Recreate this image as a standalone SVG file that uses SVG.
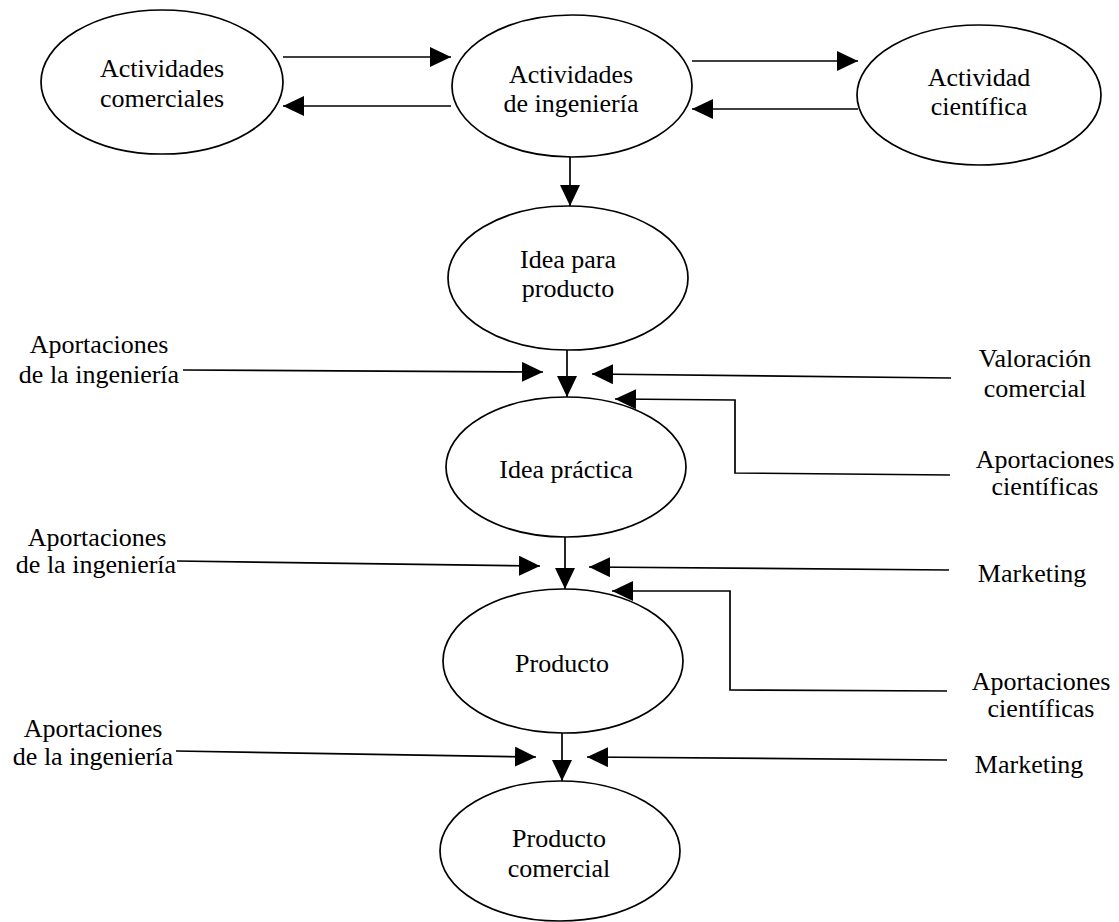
<svg xmlns="http://www.w3.org/2000/svg" width="1119" height="922" viewBox="0 0 1119 922">
<style>
.node ellipse{fill:#fff;stroke:#000;stroke-width:1.7}
text{font-family:"Liberation Serif","Times New Roman",serif;font-size:26px;fill:#000;text-anchor:middle}
.conn line,.conn polyline{fill:none;stroke:#000;stroke-width:1.7;marker-end:url(#ah)}
</style>
<defs>
<marker id="ah" markerUnits="userSpaceOnUse" markerWidth="22" markerHeight="22" refX="21" refY="10" orient="auto">
<path d="M0,0 L21,10 L0,20 z" fill="#000"/>
</marker>
</defs>
<rect width="1119" height="922" fill="#fff"/>
<g id="n-comerciales" class="node"><ellipse cx="162" cy="82" rx="121" ry="72"/><text x="162" y="77">Actividades</text><text x="162" y="107">comerciales</text></g>
<g id="n-ingenieria" class="node"><ellipse cx="572" cy="86" rx="120" ry="71"/><text x="571" y="83">Actividades</text><text x="571" y="112">de ingeniería</text></g>
<g id="n-cientifica" class="node"><ellipse cx="979" cy="95" rx="122" ry="70"/><text x="979" y="86">Actividad</text><text x="979" y="115">científica</text></g>
<g id="n-idea" class="node"><ellipse cx="568" cy="278" rx="120" ry="72"/><text x="568" y="268">Idea para</text><text x="568" y="297">producto</text></g>
<g id="n-practica" class="node"><ellipse cx="566" cy="467" rx="120" ry="70"/><text x="566" y="478">Idea práctica</text></g>
<g id="n-producto" class="node"><ellipse cx="563" cy="661" rx="120" ry="72"/><text x="562" y="672">Producto</text></g>
<g id="n-comercial" class="node"><ellipse cx="560" cy="851" rx="120" ry="70"/><text x="559" y="847">Producto</text><text x="559" y="877">comercial</text></g>
<g id="labels">
<text x="99" y="353">Aportaciones</text><text x="99" y="383">de la ingeniería</text>
<text x="1035" y="367">Valoración</text><text x="1035" y="397">comercial</text>
<text x="1045" y="468">Aportaciones</text><text x="1045" y="495">científicas</text>
<text x="97" y="546">Aportaciones</text><text x="96" y="573">de la ingeniería</text>
<text x="1032" y="582">Marketing</text>
<text x="1041" y="690">Aportaciones</text><text x="1041" y="717">científicas</text>
<text x="93" y="737">Aportaciones</text><text x="93" y="765">de la ingeniería</text>
<text x="1029" y="773">Marketing</text>
</g>
<g id="connectors" class="conn">
<line x1="283" y1="57" x2="451" y2="57"/>
<line x1="451" y1="106" x2="283" y2="106"/>
<line x1="692" y1="61" x2="858" y2="61"/>
<line x1="858" y1="109" x2="692" y2="109"/>
<line x1="570" y1="157" x2="570" y2="206"/>
<line x1="183" y1="370" x2="543" y2="372"/>
<line x1="567" y1="350" x2="567" y2="397"/>
<line x1="951" y1="378" x2="592" y2="374"/>
<polyline points="950,475 735,473 735,400 615,399"/>
<line x1="177" y1="561" x2="540" y2="566"/>
<line x1="565" y1="537" x2="565" y2="589"/>
<line x1="949" y1="570" x2="589" y2="567"/>
<polyline points="947,691 730,690 730,591 612,591"/>
<line x1="176" y1="751" x2="536" y2="757"/>
<line x1="562" y1="733" x2="562" y2="781"/>
<line x1="947" y1="760" x2="587" y2="757"/>
</g>
</svg>
